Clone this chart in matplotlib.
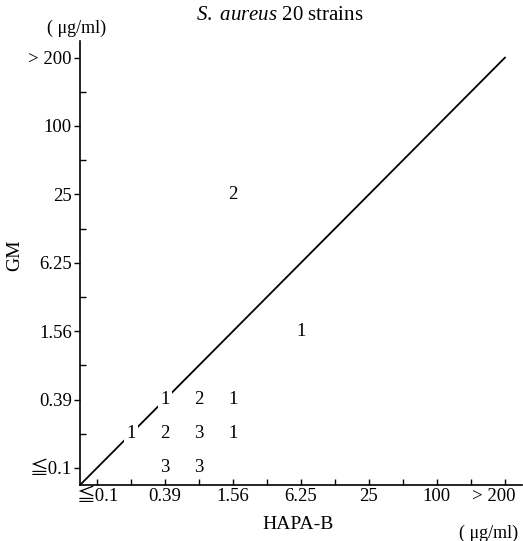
import matplotlib
matplotlib.use("Agg")
import matplotlib.pyplot as plt
from matplotlib.transforms import ScaledTranslation

# MIC steps (index 0 = <=0.1 ... 12 = >200), labels on every second step
tick_labels = ["≦0.1", "0.39", "1.56", "6.25", "25", "100", "> 200"]

# strain counts: (HAPA-B step, GM step, count)
hapa_step = [2, 3, 1, 2, 3, 4, 2, 3, 4, 6, 4]
gm_step   = [0, 0, 1, 1, 1, 1, 2, 2, 2, 4, 8]
counts    = [3, 3, 1, 2, 3, 1, 1, 2, 1, 1, 2]

diag_x = [-0.5, 12]
diag_y = [-0.5, 12]

plt.rcParams["font.family"] = ["Liberation Serif", "Noto Sans CJK JP"]
plt.rcParams["mathtext.fontset"] = "custom"
plt.rcParams["mathtext.it"] = "Liberation Serif:italic"
plt.rcParams["mathtext.rm"] = "Liberation Serif"

fig = plt.figure(figsize=(5.23, 5.41), dpi=100)
ax = fig.add_axes([0.153, 0.1035, 0.845, 0.8216])

ax.plot(diag_x, diag_y, color="black", lw=1.3, zorder=1)
for x, y, c in zip(hapa_step, gm_step, counts):
    ax.text(x, y, str(c), ha="center", va="center", fontsize=13.5, zorder=3,
            bbox=dict(facecolor="white", edgecolor="none", pad=1.5))

ax.set_xlim(-0.5, 12.5)
ax.set_ylim(-0.5, 12.5)
ax.spines["top"].set_visible(False)
ax.spines["right"].set_visible(False)
ax.spines["left"].set_linewidth(1.2)
ax.spines["bottom"].set_linewidth(1.2)

major = list(range(0, 13, 2))
minor = list(range(1, 13, 2))
ax.set_xticks(major)
ax.set_xticklabels(tick_labels, fontsize=13.5)
ax.set_xticks(minor, minor=True)
ax.set_yticks(major)
ax.set_yticklabels(tick_labels, fontsize=13.5)
ax.set_yticks(minor, minor=True)
ax.tick_params(axis="x", which="both", direction="in", length=4, width=1, pad=2)
ax.tick_params(axis="y", which="major", direction="out", length=4, width=1, pad=2)
ax.tick_params(axis="y", which="minor", direction="in", length=4, width=1)

# last x label sits a bit left of its tick so it stays inside the figure
last = ax.get_xticklabels()[-1]
last.set_transform(last.get_transform() + ScaledTranslation(-0.11, 0, fig.dpi_scale_trans))

fig.text(0.029, 0.529, "GM", rotation=90, ha="center", va="center", fontsize=14)
fig.text(0.57, 0.03, "HAPA-B", ha="center", va="center", fontsize=14)
fig.text(0.935, 0.014, "( μg/ml)", ha="center", va="center", fontsize=13)
fig.text(0.147, 0.948, "( μg/ml)", ha="center", va="center", fontsize=13)
fig.text(0.535, 0.972, r"$\mathit{S.\ aureus}$ 20 strains", ha="center",
         va="center", fontsize=15)

fig.savefig("out.png", dpi=100)
